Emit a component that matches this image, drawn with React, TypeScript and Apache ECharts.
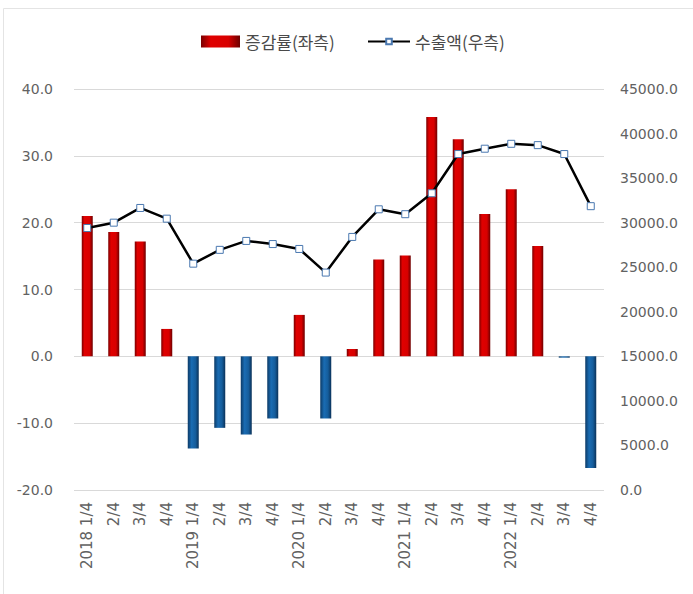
import React, { useEffect, useRef } from "react";
import * as echarts from "echarts";

const categories = [
  "2018 1/4", "2/4", "3/4", "4/4",
  "2019 1/4", "2/4", "3/4", "4/4",
  "2020 1/4", "2/4", "3/4", "4/4",
  "2021 1/4", "2/4", "3/4", "4/4",
  "2022 1/4", "2/4", "3/4", "4/4",
];

const growthRate = [
  21.0, 18.6, 17.2, 4.1,
  -13.8, -10.7, -11.7, -9.3,
  6.2, -9.3, 1.1, 14.5,
  15.1, 35.8, 32.5, 21.3,
  25.0, 16.5, -0.2, -16.7,
];

const exportValue = [
  29400, 30000, 31650, 30450,
  25400, 26950, 27950, 27600,
  27050, 24400, 28400, 31500,
  30950, 33300, 37700, 38300,
  38850, 38700, 37700, 31850,
];

const legendNames = ["증감률(좌측)", "수출액(우측)"];

const FONT = "'Noto Sans CJK KR', 'Noto Sans', sans-serif";
const NUMFONT = "'DejaVu Sans', sans-serif";

const redGrad = new echarts.graphic.LinearGradient(0, 0, 1, 0, [
  { offset: 0, color: "#7a0000" },
  { offset: 0.25, color: "#e00000" },
  { offset: 0.7, color: "#d80000" },
  { offset: 1, color: "#6e0000" },
]);
const blueGrad = new echarts.graphic.LinearGradient(0, 0, 1, 0, [
  { offset: 0, color: "#0c3a66" },
  { offset: 0.35, color: "#1a6cb3" },
  { offset: 0.7, color: "#155d9c" },
  { offset: 1, color: "#0a3158" },
]);

export default function App() {
  const ref = useRef<HTMLDivElement>(null);
  useEffect(() => {
    if (!ref.current) return;
    const chart = echarts.init(ref.current, null, { renderer: "svg" });
    const legendText = { fontSize: 17, color: "#4a4a4a", fontFamily: FONT };
    chart.setOption({
      animation: false,
      backgroundColor: "#ffffff",
      textStyle: { fontFamily: FONT },
      graphic: [
        {
          type: "rect",
          shape: { x: 3.5, y: 8.5, width: 720, height: 620 },
          style: { fill: "none", stroke: "#e4e4e4", lineWidth: 1 },
          silent: true,
        },
      ],
      legend: [
        {
          top: 28,
          left: 196,
          itemGap: 22,
          itemWidth: 39,
          itemHeight: 12,
          textStyle: legendText,
          data: [{ name: legendNames[0], icon: "rect" }],
        },
        {
          top: 28,
          left: 362,
          itemWidth: 42,
          itemHeight: 7,
          textStyle: legendText,
          data: [{ name: legendNames[1] }],
        },
      ],
      grid: { left: 74, right: 89, top: 89, bottom: 104 },
      xAxis: {
        type: "category",
        data: categories,
        axisLine: { show: false },
        axisTick: { show: false },
        axisLabel: {
          rotate: 90,
          interval: 0,
          margin: 12,
          fontSize: 15,
          color: "#626262",
          fontFamily: NUMFONT,
        },
      },
      yAxis: [
        {
          type: "value",
          min: -20,
          max: 40,
          interval: 10,
          axisLine: { show: false },
          axisTick: { show: false },
          splitLine: { lineStyle: { color: "#d9d9d9", width: 1 } },
          axisLabel: {
            margin: 21,
            fontSize: 14,
            color: "#626262",
            fontFamily: NUMFONT,
            formatter: (v: number) => v.toFixed(1),
          },
        },
        {
          type: "value",
          min: 0,
          max: 45000,
          interval: 5000,
          axisLine: { show: false },
          axisTick: { show: false },
          splitLine: { show: false },
          axisLabel: {
            margin: 16,
            fontSize: 14,
            color: "#626262",
            fontFamily: NUMFONT,
            formatter: (v: number) => v.toFixed(1),
          },
        },
      ],
      series: [
        {
          name: legendNames[0],
          type: "bar",
          yAxisIndex: 0,
          barWidth: 11,
          itemStyle: { color: redGrad },
          data: growthRate.map((v) => ({
            value: v,
            itemStyle: { color: v < 0 ? blueGrad : redGrad },
          })),
        },
        {
          name: legendNames[1],
          type: "line",
          yAxisIndex: 1,
          data: exportValue,
          symbol: "rect",
          symbolSize: 7,
          lineStyle: { color: "#000000", width: 2.5 },
          itemStyle: { color: "#ffffff", borderColor: "#4a78b0", borderWidth: 1 },
          z: 5,
        },
      ],
    });
    return () => chart.dispose();
  }, []);
  return (
    <div
      ref={ref}
      style={{ position: "fixed", left: 0, top: 0, width: 693, height: 594 }}
    />
  );
}
